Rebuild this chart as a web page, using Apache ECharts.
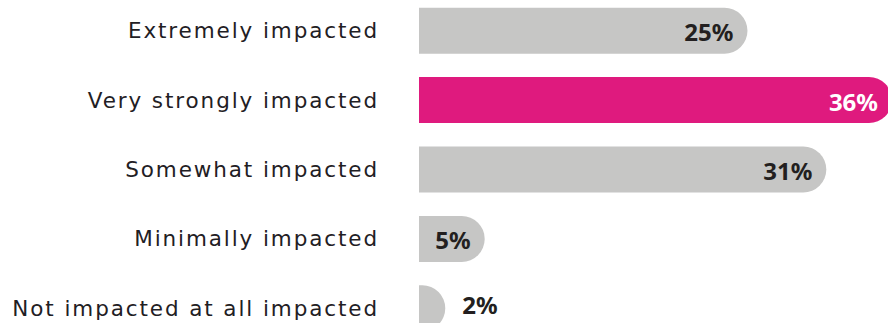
<!DOCTYPE html>
<html>
<head>
<meta charset="utf-8">
<script src="https://cdn.jsdelivr.net/npm/echarts@6/dist/echarts.min.js"></script>
<style>
  html, body { margin: 0; padding: 0; background: #ffffff; }
  #chart { width: 888px; height: 323px; }
  /* open up the category labels a little */
  #chart text[style*="DejaVu"], #chart text[font-family*="DejaVu"] { letter-spacing: 1.9px; }
</style>
</head>
<body>
<div id="chart"></div>
<script>
// Survey responses: level of impact
const categories = [
  'Extremely impacted',
  'Very strongly impacted',
  'Somewhat impacted',
  'Minimally impacted',
  'Not impacted at all impacted'
];
const shares = [25, 36, 31, 5, 2];
const highlightIndex = 1;
const outsideLabelIndex = 4;

const GREY = '#c6c6c5';
const PINK = '#df1a7e';
const DARK = '#231f20';

const seriesData = shares.map((v, i) => {
  const hi = i === highlightIndex;
  const outside = i === outsideLabelIndex;
  return {
    value: v,
    itemStyle: { color: hi ? PINK : GREY },
    label: {
      position: outside ? 'right' : 'insideRight',
      distance: outside ? 17 : 14,
      offset: outside ? [0, -4] : [0, 1],
      color: hi ? '#ffffff' : DARK
    }
  };
});

const chart = echarts.init(document.getElementById('chart'), null, { renderer: 'svg' });
chart.setOption({
  animation: false,
  grid: {
    left: 419, top: -4, width: 473, height: 347,
    containLabel: false,
    outerBoundsMode: 'none'
  },
  xAxis: {
    type: 'value', min: 0, max: 36,
    show: false
  },
  yAxis: {
    type: 'category',
    data: categories,
    inverse: true,
    axisLine: { show: false },
    axisTick: { show: false },
    axisLabel: {
      margin: 40,
      fontFamily: 'DejaVu Sans',
      fontSize: 21.5,
      color: '#1f2024'
    }
  },
  series: [{
    type: 'bar',
    barWidth: 46,
    data: seriesData,
    itemStyle: { borderRadius: [0, 23, 23, 0] },
    label: {
      show: true,
      formatter: '{c}%',
      fontFamily: 'Noto Sans',
      fontWeight: 'bold',
      fontSize: 24,
      lineHeight: 24
    }
  }]
});
</script>
</body>
</html>
